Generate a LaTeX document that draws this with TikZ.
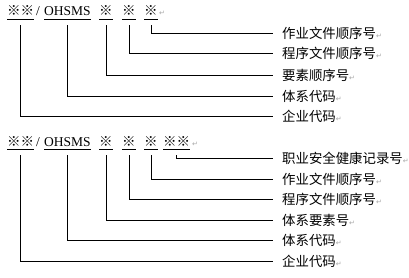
\documentclass[tikz,border=0pt]{standalone}
\usepackage{fontspec}
\setmainfont{Liberation Serif}
\newfontfamily\cjk{Noto Sans CJK SC}
\newfontfamily\dv{DejaVu Sans}
\begin{document}
\begin{tikzpicture}[x=1pt,y=-1pt,
  code/.style={inner sep=0pt,text height=10pt,text depth=3pt,anchor=base west,font=\fontsize{13.5}{14}\selectfont},
  ul/.style={line width=0.8pt},
  lbl/.style={inner sep=0pt,anchor=west,font=\fontsize{13.4}{14}\selectfont\cjk},
  conn/.style={line width=0.8pt,shorten >=9pt},
  pm/.style={inner sep=0pt,anchor=base west,font=\fontsize{7}{8}\selectfont\dv,text=gray!70}
]
\useasboundingbox (0,0) rectangle (409,278);
% ---------- top group ----------
\node[code] (a1) at (7,16) {\cjk ※※};
\node[code] (as) at (36,16) {/};
\node[code] (a2) at (44,16) {OHSMS};
\node[code] (a3) at (99,16) {\cjk ※};
\node[code] (a4) at (122,16) {\cjk ※};
\node[code] (a5) at (144,16) {\cjk ※};
\node[pm] (ap) at (159,16) {↵};
\foreach \n in {a1,a2,a3,a4,a5}
  \draw[ul] (\n.south west) -- (\n.south east);
\node[lbl] (la5) at (282,33) {作业文件顺序号{\dv\fontsize{7}{8}\selectfont\color{gray!70}↵}};
\node[lbl] (la4) at (282,53) {程序文件顺序号{\dv\fontsize{7}{8}\selectfont\color{gray!70}↵}};
\node[lbl] (la3) at (282,75) {要素顺序号{\dv\fontsize{7}{8}\selectfont\color{gray!70}↵}};
\node[lbl] (la2) at (282,96) {体系代码{\dv\fontsize{7}{8}\selectfont\color{gray!70}↵}};
\node[lbl] (la1) at (282,116) {企业代码{\dv\fontsize{7}{8}\selectfont\color{gray!70}↵}};
\foreach \n in {1,...,5}
  \draw[conn] ([yshift=-6pt]a\n.south) |- (la\n.west);
% ---------- bottom group ----------
\node[code] (b1) at (7,146) {\cjk ※※};
\node[code] (bs) at (36,146) {/};
\node[code] (b2) at (44,146) {OHSMS};
\node[code] (b3) at (99,146) {\cjk ※};
\node[code] (b4) at (122,146) {\cjk ※};
\node[code] (b5) at (144,146) {\cjk ※};
\node[code] (b6) at (163,146) {\cjk ※※};
\node[pm] (bp) at (192,146) {↵};
\foreach \n in {b1,b2,b3,b4,b5,b6}
  \draw[ul] (\n.south west) -- (\n.south east);
\node[lbl] (lb6) at (282,158) {职业安全健康记录号{\dv\fontsize{7}{8}\selectfont\color{gray!70}↵}};
\node[lbl] (lb5) at (282,179) {作业文件顺序号{\dv\fontsize{7}{8}\selectfont\color{gray!70}↵}};
\node[lbl] (lb4) at (282,199) {程序文件顺序号{\dv\fontsize{7}{8}\selectfont\color{gray!70}↵}};
\node[lbl] (lb3) at (282,220) {体系要素号{\dv\fontsize{7}{8}\selectfont\color{gray!70}↵}};
\node[lbl] (lb2) at (282,240) {体系代码{\dv\fontsize{7}{8}\selectfont\color{gray!70}↵}};
\node[lbl] (lb1) at (282,261) {企业代码{\dv\fontsize{7}{8}\selectfont\color{gray!70}↵}};
\foreach \n in {1,...,6}
  \draw[conn] ([yshift=-6pt]b\n.south) |- (lb\n.west);
\end{tikzpicture}
\end{document}
